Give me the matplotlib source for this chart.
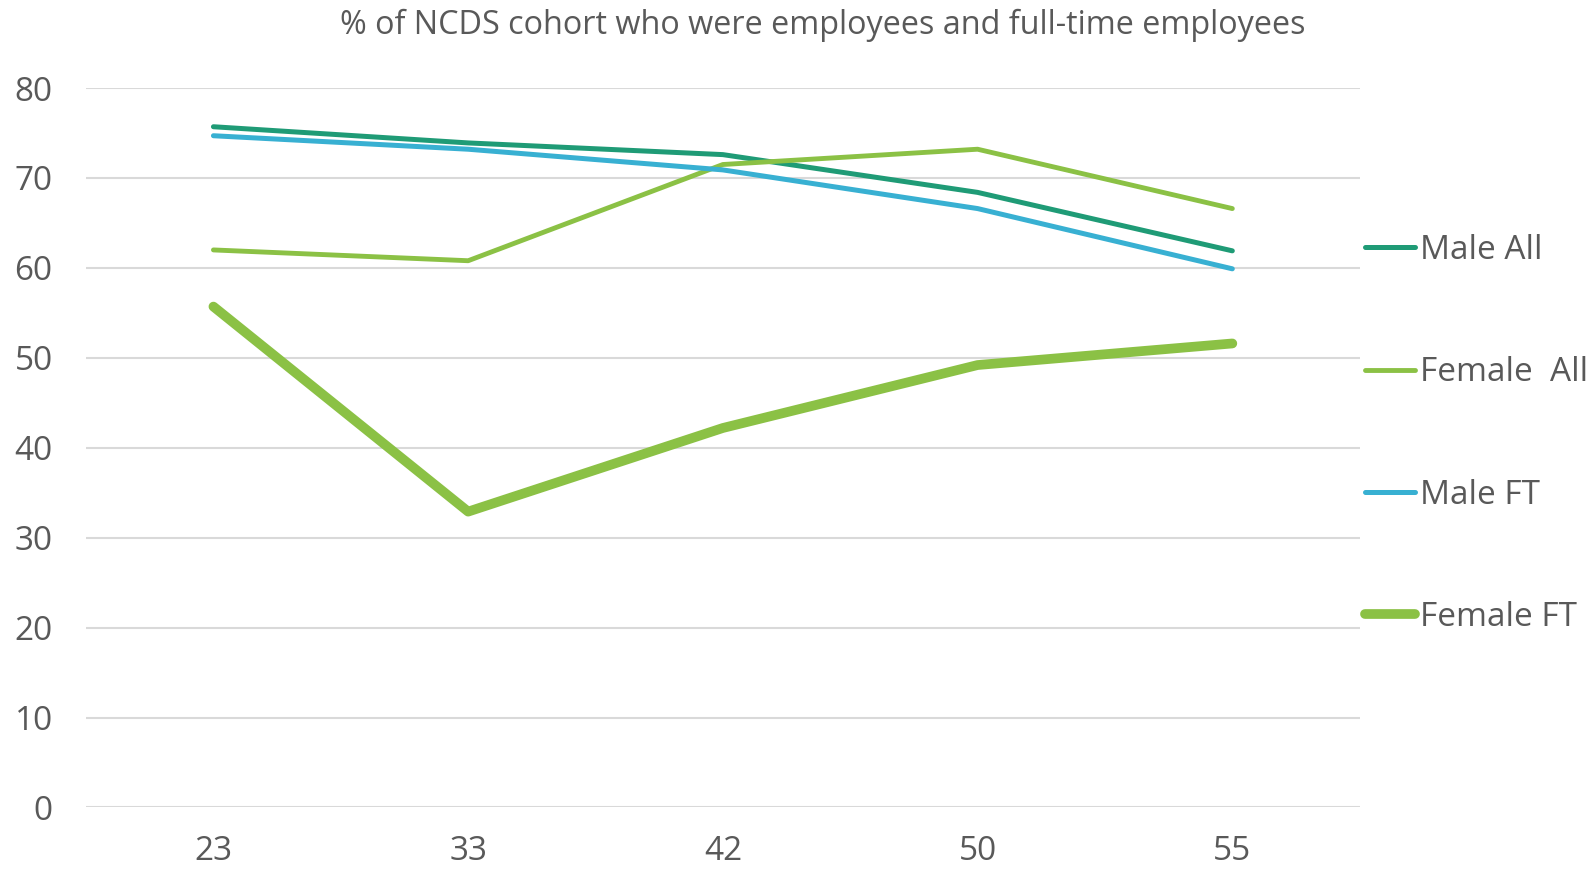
import matplotlib
matplotlib.use("Agg")
import matplotlib.pyplot as plt

# ages at survey sweep
ages = ["23", "33", "42", "50", "55"]
male_all = [75.7, 73.9, 72.6, 68.4, 61.9]
female_all = [62.0, 60.8, 71.5, 73.2, 66.6]
male_ft = [74.7, 73.2, 70.9, 66.6, 59.9]
female_ft = [55.7, 32.9, 42.2, 49.2, 51.6]

plt.rcParams['font.family'] = ['Open Sans', 'DejaVu Sans']
grey = '#595959'

fig = plt.figure(figsize=(15.94, 8.72), dpi=100)
ax = fig.add_axes([0.054, 0.074, 0.799, 0.825])

x = range(len(ages))
l1, = ax.plot(x, male_all, color='#1F9B76', lw=3.6, solid_capstyle='round', label='Male All')
l2, = ax.plot(x, female_all, color='#8BC145', lw=3.5, solid_capstyle='round', label='Female  All')
l3, = ax.plot(x, male_ft, color='#38B0D2', lw=3.6, solid_capstyle='round', label='Male FT')
l4, = ax.plot(x, female_ft, color='#8BC145', lw=7.0, solid_capstyle='round', label='Female FT')

ax.set_xlim(-0.5, len(ages) - 0.5)
ax.set_ylim(0, 80)
ax.set_yticks(range(0, 81, 10))
ax.set_xticks(list(x))
ax.set_xticklabels(ages)
ax.grid(axis='y', color='#D9D9D9', lw=1.5)
ax.set_axisbelow(True)
for s in ax.spines.values():
    s.set_visible(False)
ax.tick_params(axis='both', length=0, labelsize=24, labelcolor=grey)
ax.tick_params(axis='y', pad=24)
ax.tick_params(axis='x', pad=20)

fig.suptitle('% of NCDS cohort who were employees and full-time employees',
             x=0.516, y=0.971, va='center', fontsize=23.3, color=grey)

leg = fig.legend(handles=[l1, l2, l3, l4], loc='upper left',
                 bbox_to_anchor=(0.848, 0.747), frameon=False,
                 fontsize=24, labelspacing=2.68, handlelength=1.5,
                 handletextpad=0.15, borderaxespad=0)
for t in leg.get_texts():
    t.set_color(grey)

fig.savefig('out.png', dpi=100)
